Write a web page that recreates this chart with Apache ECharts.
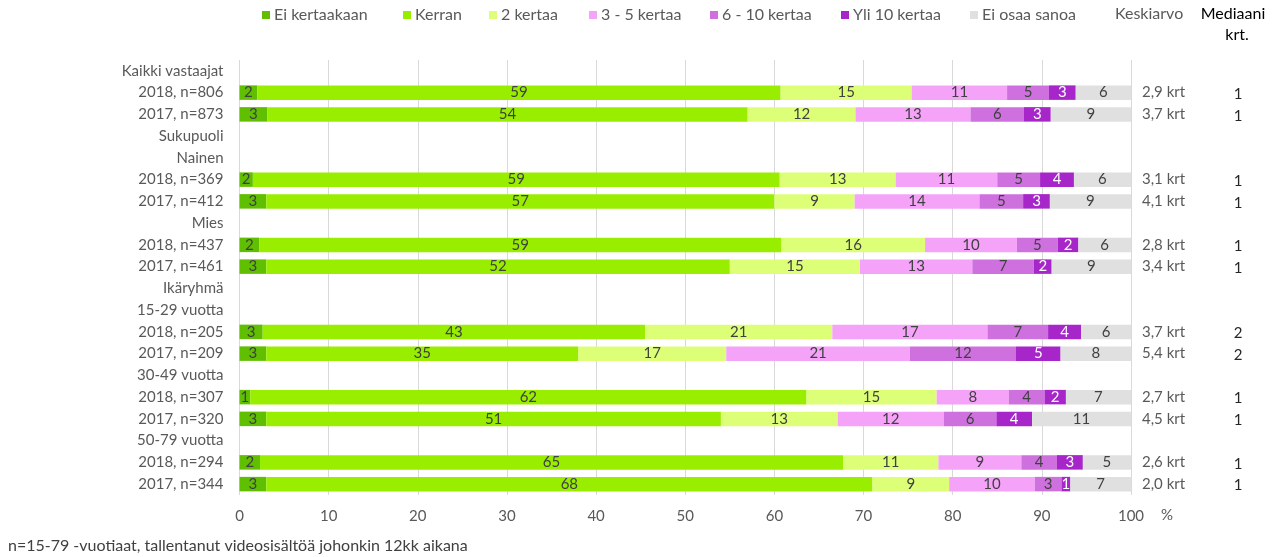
<!DOCTYPE html>
<html>
<head>
<meta charset="utf-8">
<script src="https://cdn.jsdelivr.net/npm/echarts@6/dist/echarts.min.js"></script>
<style>
html,body{margin:0;padding:0;background:#fff;}
#chart{width:1281px;height:557px;}
</style>
</head>
<body>
<div id="chart"></div>
<script>
var categories = ["Kaikki vastaajat","2018, n=806","2017, n=873","Sukupuoli","Nainen","2018, n=369","2017, n=412","Mies","2018, n=437","2017, n=461","Ikäryhmä","15-29 vuotta","2018, n=205","2017, n=209","30-49 vuotta","2018, n=307","2017, n=320","50-79 vuotta","2018, n=294","2017, n=344"];
var seriesNames = ["Ei kertaakaan","Kerran","2 kertaa","3 - 5 kertaa","6 - 10 kertaa","Yli 10 kertaa","Ei osaa sanoa"];
var eiKertaakaan = [null,2.0,3.1,null,null,1.5,3.0,null,2.2,3.0,null,null,2.6,3.0,null,1.2,3.0,null,2.3,3.0];
var kerran       = [null,58.7,53.9,null,null,59.1,57.0,null,58.6,52.0,null,null,42.9,35.0,null,62.4,51.0,null,65.4,68.0];
var kaksiKertaa  = [null,14.7,12.1,null,null,13.0,9.0,null,16.1,14.6,null,null,21.0,16.6,null,14.6,13.1,null,10.7,8.6];
var kolmeViisi   = [null,10.7,12.9,null,null,11.4,14.0,null,10.3,12.6,null,null,17.4,20.6,null,8.1,11.9,null,9.3,9.6];
var kuusiKymmen  = [null,4.7,6.0,null,null,4.8,4.9,null,4.6,6.9,null,null,6.8,11.9,null,4.0,5.9,null,4.0,3.0];
var yliKymmenen  = [null,3.0,3.0,null,null,3.8,3.0,null,2.3,2.0,null,null,3.7,5.0,null,2.4,4.0,null,2.9,1.0];
var eiOsaa       = [null,6.2,9.0,null,null,6.4,9.1,null,5.9,8.9,null,null,5.6,7.9,null,7.3,11.1,null,5.4,6.8];
var keskiarvo    = ["","2,9 krt","3,7 krt","","","3,1 krt","4,1 krt","","2,8 krt","3,4 krt","","","3,7 krt","5,4 krt","","2,7 krt","4,5 krt","","2,6 krt","2,0 krt"];
var mediaani     = ["","1","1","","","1","1","","1","1","","","2","2","","1","1","","1","1"];
var xTicks = [0,10,20,30,40,50,60,70,80,90,100];

var colors = ["#5fbf00","#99ee00","#ddff77","#f5a3f8","#cf70df","#a626c9","#e0e0e0"];
var values = [eiKertaakaan,kerran,kaksiKertaa,kolmeViisi,kuusiKymmen,yliKymmenen,eiOsaa];
var legendLeft = [257,398,484,584,705,836,965];
var FONT = "Lato";

var series = seriesNames.map(function(n,i){
  return {
    name:n, type:'bar', stack:'t', barWidth:14.5,
    itemStyle:{color:colors[i]},
    label:{show:true, position:'inside', fontFamily:FONT, fontSize:15,
      color: i===5 ? '#ffffff' : '#404040',
      formatter:function(p){return Math.round(p.value);}},
    emphasis:{disabled:true},
    data: values[i]
  };
});

var legends = seriesNames.map(function(n,i){
  return {data:[n], left:legendLeft[i], top:2, itemWidth:8, itemHeight:8, icon:'rect', itemGap:0,
    textStyle:{fontFamily:FONT, fontSize:16, color:'#595959', padding:[0,0,0,-1]}, selectedMode:false};
});

var chart = echarts.init(document.getElementById('chart'));
chart.setOption({
  animation:false,
  backgroundColor:'#ffffff',
  textStyle:{fontFamily:FONT},
  legend: legends,
  grid:{left:239.5, right:150, top:60, bottom:62, containLabel:false},
  xAxis:{type:'value', min:xTicks[0], max:xTicks[xTicks.length-1], interval:10,
    axisLine:{show:false}, axisTick:{show:false},
    splitLine:{show:true, lineStyle:{color:'#d9d9d9', width:1}},
    axisLabel:{fontFamily:FONT, fontSize:15, color:'#595959', margin:14}},
  yAxis:[
    {type:'category', data:categories, inverse:true,
     axisLine:{show:false}, axisTick:{show:false},
     axisLabel:{fontFamily:FONT, fontSize:15, color:'#595959', margin:16}},
    {type:'category', data:categories, inverse:true, position:'right',
     axisLine:{show:false}, axisTick:{show:false},
     axisLabel:{margin:11, align:'left',
       formatter:function(v,idx){ if(!keskiarvo[idx]) return ''; return '{k|'+keskiarvo[idx]+'}{m|'+mediaani[idx]+'}'; },
       rich:{k:{fontFamily:FONT, fontSize:15, color:'#595959', width:88, align:'left'},
             m:{fontFamily:FONT, fontSize:15, color:'#262626', width:16, align:'center', padding:[3,0,0,0]}}}}
  ],
  graphic:[
    {type:'text', x:1115, y:14, style:{text:'Keskiarvo', fontFamily:FONT, fontSize:16, fill:'#595959', textVerticalAlign:'middle'}},
    {type:'text', x:1233, y:14, style:{text:'Mediaani', fontFamily:FONT, fontSize:16, fill:'#000000', textAlign:'center', textVerticalAlign:'middle'}},
    {type:'text', x:1237, y:35, style:{text:'krt.', fontFamily:FONT, fontSize:16, fill:'#000000', textAlign:'center', textVerticalAlign:'middle'}},
    {type:'text', x:1161, y:515, style:{text:'%', fontFamily:FONT, fontSize:15, fill:'#595959', textVerticalAlign:'middle'}},
    {type:'text', x:8, y:546, style:{text:'n=15-79 -vuotiaat, tallentanut videosisältöä johonkin 12kk aikana', fontFamily:FONT, fontSize:16, fill:'#404040', textVerticalAlign:'middle'}}
  ],
  series: series
});
</script>
</body>
</html>
